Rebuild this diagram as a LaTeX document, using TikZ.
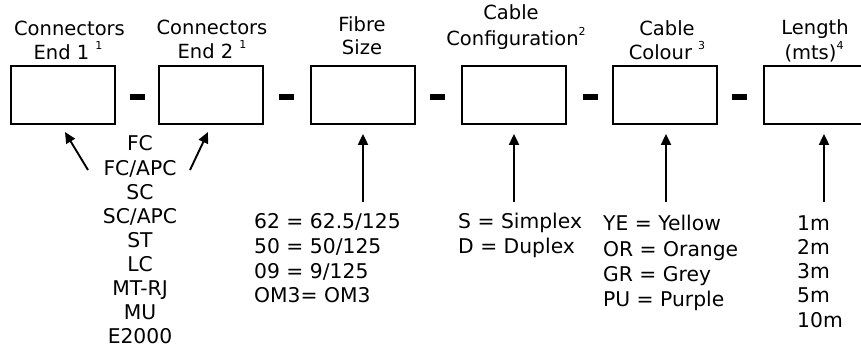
\documentclass[tikz,border=0pt]{standalone}
\usepackage{fontspec}
\setmainfont{DejaVu Sans}
\usetikzlibrary{arrows.meta}
\newcommand\supx[1]{\raisebox{10pt}{\fontsize{11}{11}\selectfont #1}}
\begin{document}
\begin{tikzpicture}[x=1pt,y=-1pt,
  every node/.style={inner sep=0pt},
  codebox/.style={draw, line width=1.8pt, minimum width=104pt, minimum height=58pt},
  dashbox/.style={fill=black, minimum width=15pt, minimum height=6pt},
  head/.style={anchor=base, font=\fontsize{19.5}{24}\selectfont},
  item/.style={anchor=base west, font=\fontsize{20.3}{24}\selectfont},
  citem/.style={anchor=base, font=\fontsize{20.3}{24}\selectfont},
  arr/.style={line width=1.9pt, -{Triangle[width=10pt,length=11pt]}}]
\useasboundingbox (0,0) rectangle (861,347);
% boxes
\node[codebox] (b1) at (63,95) {};
\node[codebox] (b2) at (211,95) {};
\node[codebox] (b3) at (363,95) {};
\node[codebox] (b4) at (514,95) {};
\node[codebox] (b5) at (665,95) {};
\node[codebox, minimum width=120pt] (b6) at (824,95) {};
% dashes
\node[dashbox] (d1) at (137,97) {};
\node[dashbox] (d2) at (286,97) {};
\node[dashbox] (d3) at (437,97) {};
\node[dashbox] (d4) at (590,97) {};
\node[dashbox] (d5) at (739.5,97) {};
% headings
\node[head] (h1a) at (69.5,36) {Connectors};
\node[head] (h1b) at (68,60) {End 1 \supx{1}};
\node[head] (h2a) at (212,35) {Connectors};
\node[head] (h2b) at (212,59) {End 2 \supx{1}};
\node[head] (h3a) at (362,32) {Fibre};
\node[head] (h3b) at (362,55) {Size};
\node[head] (h4a) at (511,20) {Cable};
\node[head] (h4b) at (516,46) {Configuration\supx{2}};
\node[head] (h5a) at (667,36) {Cable};
\node[head] (h5b) at (667,60) {Colour \supx{3}};
\node[head] (h6a) at (815,35) {Length};
\node[head] (h6b) at (814,60) {(mts)\supx{4}};
% connector list
\foreach \t [count=\i from 0] in {FC,FC/APC,SC,SC/APC,ST,LC,MT-RJ,MU,E2000}
  \node[citem] (c\i) at (140,151+24.1*\i) {\t};
% fibre list
\foreach \t [count=\i from 0] in {62 = 62.5/125,50 = 50/125,09 = 9/125,OM3= OM3}
  \node[item] (f\i) at (254,229+24.5*\i) {\t};
% configuration list
\foreach \t [count=\i from 0] in {S = Simplex,D = Duplex}
  \node[item] (s\i) at (458,229+24.5*\i) {\t};
% colour list
\foreach \t [count=\i from 0] in {YE = Yellow,OR = Orange,GR = Grey,PU = Purple}
  \node[item] (k\i) at (603,231+25.3*\i) {\t};
% length list
\foreach \t [count=\i from 0] in {1m,2m,3m,5m,10m}
  \node[item] (l\i) at (797,230+24.3*\i) {\t};
% arrows
\coordinate (ta) at (88,170); \coordinate (pa) at (65,132);
\coordinate (tb) at (190,170); \coordinate (pb) at (208,132);
\draw[arr] (ta) -- (pa);
\draw[arr] (tb) -- (pb);
\coordinate (t3) at (363,202);
\coordinate (t4) at (514,202);
\coordinate (t5) at (666,202);
\coordinate (t6) at (824,202);
\draw[arr, shorten >=9pt] (t3) -- (t3 |- b3.south);
\draw[arr, shorten >=9pt] (t4) -- (t4 |- b4.south);
\draw[arr, shorten >=9pt] (t5) -- (t5 |- b5.south);
\draw[arr, shorten >=9pt] (t6) -- (t6 |- b6.south);
\end{tikzpicture}
\end{document}
